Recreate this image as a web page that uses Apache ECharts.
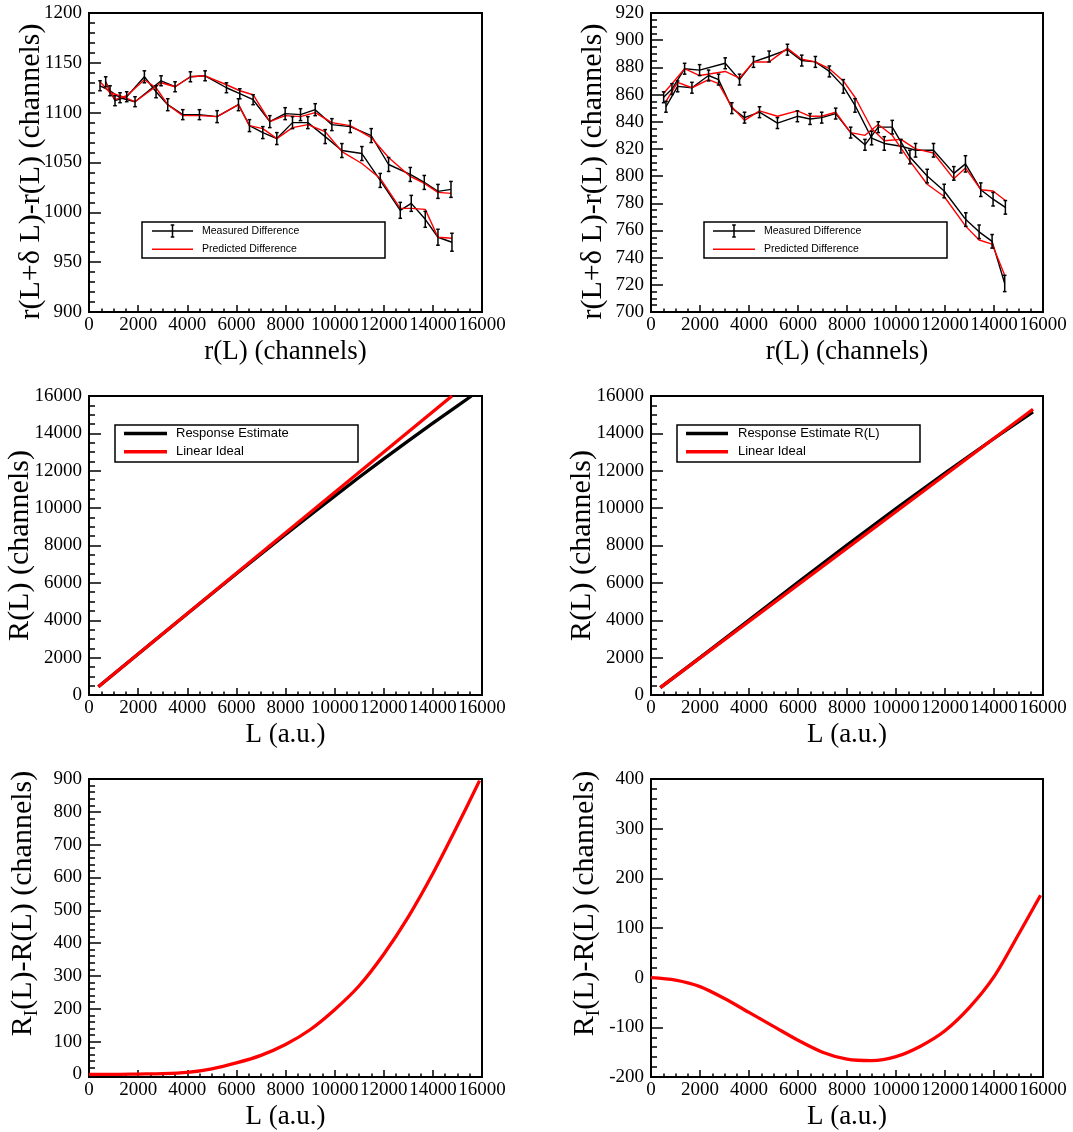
<!DOCTYPE html>
<html>
<head>
<meta charset="utf-8">
<script src="https://cdn.jsdelivr.net/npm/echarts@6/dist/echarts.min.js"></script>
<style>
  html, body { margin: 0; padding: 0; background: #fff; }
  #chart { width: 1073px; height: 1132px; }
</style>
</head>
<body>
<div id="chart"></div>
<script>
// ---- Top-left panel: difference measurements, two branches ----
const tlA_r    = [448, 856, 1263, 1874, 2934, 3504, 4129, 4727, 5596, 6139, 6682, 7361, 7986, 8611, 9209, 9888, 10635, 11490, 12197, 13080, 13650, 14207, 14737];
const tlA_meas = [1127, 1122, 1115, 1111, 1132, 1126, 1136, 1137, 1125, 1119, 1113, 1091, 1099, 1098, 1103, 1088, 1086, 1077, 1048, 1038, 1030, 1021, 1023];
const tlA_err  = [5, 5, 5, 5, 5, 5, 5, 5, 5, 5, 5, 6, 6, 6, 6, 6, 6, 7, 7, 7, 7, 7, 8];
const tlA_pred = [1131, 1120, 1117, 1111, 1130, 1126, 1136, 1137, 1128, 1122, 1118, 1091, 1097, 1096, 1100, 1090, 1087, 1075, 1055, 1036, 1029, 1020, 1019];

const tlB_r    = [679, 1059, 1535, 2255, 2730, 3205, 3817, 4496, 5215, 6085, 6533, 7076, 7647, 8285, 8910, 9616, 10295, 11110, 11857, 12672, 13120, 13690, 14207, 14777];
const tlB_meas = [1131, 1112, 1116, 1136, 1121, 1108, 1098, 1098, 1096, 1108, 1087, 1080, 1074, 1090, 1090, 1076, 1062, 1059, 1032, 1002, 1009, 993, 975, 970];
const tlB_err  = [5, 5, 5, 6, 6, 6, 5, 5, 6, 6, 6, 6, 6, 6, 6, 7, 7, 7, 7, 8, 8, 8, 8, 9];
const tlB_pred = [1130, 1113, 1117, 1133, 1125, 1108, 1097, 1097, 1096, 1108, 1087, 1084, 1074, 1085, 1088, 1081, 1061, 1049, 1034, 1004, 1004, 1003, 975, 974];

// ---- Top-right panel ----
const trA_r    = [516, 856, 1372, 1983, 3029, 3613, 4183, 4822, 5569, 6153, 6710, 7280, 7850, 8326, 9005, 9521, 10200, 10798, 11531, 12360, 12835, 13460, 13962, 14464];
const trA_meas = [858, 864, 879, 878, 883, 871, 884, 888, 893, 885, 884, 877, 866, 852, 828, 824, 822, 819, 819, 802, 809, 790, 783, 777];
const trA_err  = [4, 4, 4, 4, 4, 4, 4, 4, 4, 4, 4, 4, 5, 5, 5, 5, 5, 5, 5, 5, 6, 5, 5, 5];
const trA_pred = [861, 868, 879, 874, 877, 872, 884, 884, 894, 886, 884, 879, 870, 858, 835, 826, 827, 820, 817, 798, 806, 790, 789, 782];

const trB_r    = [611, 1087, 1671, 2350, 2757, 3300, 3817, 4428, 5161, 5976, 6492, 6968, 7538, 8149, 8733, 9276, 9847, 10567, 11273, 11966, 12849, 13392, 13922, 14437];
const trB_meas = [851, 866, 865, 874, 871, 850, 843, 847, 839, 844, 842, 843, 846, 832, 823, 836, 836, 814, 800, 789, 768, 759, 752, 721];
const trB_err  = [4, 4, 4, 4, 4, 4, 4, 4, 4, 4, 4, 4, 4, 4, 4, 4, 5, 5, 5, 5, 5, 5, 5, 6];
const trB_pred = [855, 869, 865, 871, 868, 851, 841, 848, 844, 848, 844, 844, 847, 832, 830, 838, 830, 811, 794, 785, 763, 753, 750, 727];

// ---- Middle panels: response estimate vs linear ideal ----
const mlResp_L = [380, 2000, 4000, 6000, 8000, 9000, 10000, 11000, 12000, 13000, 14000, 15000, 15570];
const mlResp_R = [446, 2195, 4351, 6484, 8587, 9623, 10641, 11650, 12632, 13601, 14548, 15471, 16000];
const mlLin_L  = [380, 14776];
const mlLin_R  = [446, 16000];

const mrResp_L = [380, 2000, 4000, 6000, 8000, 10000, 12000, 14000, 15592];
const mrResp_R = [392, 1998, 4007, 6030, 8019, 9971, 11879, 13725, 15149];
const mrLin_L  = [380, 15592];
const mrLin_R  = [392, 15289];

// ---- Bottom panels: R_I(L) - R(L) ----
const blL = [0, 1000, 2000, 3000, 4000, 5000, 6000, 7000, 8000, 9000, 10000, 11000, 12000, 13000, 14000, 15000, 15900];
const blD = [0, 0, 1, 2, 6, 17, 35, 58, 91, 136, 197, 270, 366, 480, 612, 758, 895];
const brL = [0, 1000, 2000, 3000, 4000, 5000, 6000, 7000, 8000, 9000, 10000, 11000, 12000, 13000, 14000, 15000, 15900];
const brD = [0, -5, -18, -42, -70, -98, -126, -150, -164, -167, -159, -138, -107, -60, 2, 87, 166];

// ---- Tick values for the lower-left residual axis ----
const blMajorTicks = [0, 100, 200, 300, 400, 500, 600, 700, 800, 900];
const blMinorTicks = [];
for (let v = 20; v < 900; v += 20) if (v % 100 !== 0) blMinorTicks.push(v);

// ---- Texts ----
const titleDiff = 'r(L+δ L)-r(L) (channels)';
const titleRL = 'R(L) (channels)';
const titleResid = '{a|R}{b|I}{a|(L)-R(L) (channels)}';
const xTitleTop = 'r(L) (channels)';
const xTitleL = 'L (a.u.)';

const SERIF = '"Liberation Serif", "Times New Roman", serif';
const SANS = '"Liberation Sans", Arial, sans-serif';
const RED = '#ff0000';
const Y_TITLE_SIZE = 30;

const pairs = (xs, ys) => xs.map((x, i) => [x, ys[i]]);

// Panel frames (pixel boxes of the plotting areas)
const grids = [
  { left: 89,  top: 13,  width: 393, height: 299 },
  { left: 651, top: 13,  width: 392, height: 299 },
  { left: 89,  top: 396, width: 393, height: 299 },
  { left: 651, top: 396, width: 392, height: 299 },
  { left: 89,  top: 779, width: 393, height: 298 },
  { left: 651, top: 779, width: 392, height: 298 }
].map(g => Object.assign({ show: true, borderColor: '#000', borderWidth: 2, backgroundColor: '#fff' }, g));

function xAxisFor(i, title) {
  return {
    type: 'value', gridIndex: i, min: 0, max: 16000, interval: 2000,
    axisLine: { show: true, onZero: false, lineStyle: { color: '#000', width: 2 } },
    axisTick: { show: true, inside: true, length: 7, lineStyle: { color: '#000', width: 1.5 } },
    minorTick: { show: true, splitNumber: 4, length: 3.5, lineStyle: { color: '#000', width: 1.5 } },
    splitLine: { show: false },
    axisLabel: { color: '#000', fontFamily: SERIF, fontSize: 19, margin: 4, showMinLabel: true, showMaxLabel: true,
                 formatter: v => String(v) },
    name: title, nameLocation: 'middle', nameGap: 26, nameMoveOverlap: false,
    nameTextStyle: { color: '#000', fontFamily: SERIF, fontSize: 27 }
  };
}

function yAxisFor(i, min, max, interval, minorSplit, title, extra) {
  const ax = {
    type: 'value', gridIndex: i, min, max, interval,
    axisLine: { show: true, onZero: false, lineStyle: { color: '#000', width: 2 } },
    axisTick: { show: true, inside: true, length: 12, lineStyle: { color: '#000', width: 1.5 } },
    minorTick: { show: true, splitNumber: minorSplit, length: 6, lineStyle: { color: '#000', width: 1.5 } },
    splitLine: { show: false },
    axisLabel: { color: '#000', fontFamily: SERIF, fontSize: 19, margin: 7, showMinLabel: true, showMaxLabel: true,
                 formatter: v => String(v) },
    name: title, nameLocation: 'middle', nameGap: 43, nameMoveOverlap: false,
    nameTextStyle: { color: '#000', fontFamily: SERIF, fontSize: Y_TITLE_SIZE }
  };
  return Object.assign(ax, extra || {});
}

const xAxes = [
  xAxisFor(0, xTitleTop), xAxisFor(1, xTitleTop),
  xAxisFor(2, xTitleL), xAxisFor(3, xTitleL),
  xAxisFor(4, xTitleL), xAxisFor(5, xTitleL)
];

const residRich = {
  a: { fontFamily: SERIF, fontSize: Y_TITLE_SIZE, color: '#000', lineHeight: 30 },
  b: { fontFamily: SERIF, fontSize: 19, color: '#000', verticalAlign: 'bottom', lineHeight: 38 }
};
// text padding slides the titles along the axis (rotated: left = upward)
const diffTitleStyle = { color: '#000', fontFamily: SERIF, fontSize: Y_TITLE_SIZE, padding: [0, 18, 0, 0] };
const residTitleStyle = { color: '#000', fontFamily: SERIF, fontSize: Y_TITLE_SIZE, rich: residRich, padding: [0, 0, 0, 49] };

const yAxes = [
  yAxisFor(0, 900, 1200, 50, 5, titleDiff, { nameTextStyle: diffTitleStyle }),
  yAxisFor(1, 700, 920, 20, 4, titleDiff, { nameTextStyle: diffTitleStyle }),
  yAxisFor(2, 0, 16000, 2000, 4, titleRL, { nameGap: 54 }),
  yAxisFor(3, 0, 16000, 2000, 4, titleRL, { nameGap: 54 }),
  // lower-left: the frame starts just below zero, ticks are listed explicitly
  yAxisFor(4, -8, 900, undefined, 5, titleResid, {
    axisTick: { show: true, inside: true, length: 12, customValues: blMajorTicks, lineStyle: { color: '#000', width: 1.5 } },
    minorTick: { show: false },
    axisLabel: { color: '#000', fontFamily: SERIF, fontSize: 19, margin: 7, customValues: blMajorTicks, formatter: v => String(v) },
    nameGap: 47,
    nameTextStyle: residTitleStyle
  }),
  yAxisFor(5, -200, 400, 100, 5, titleResid, {
    nameGap: 47,
    nameTextStyle: residTitleStyle
  }),
  // minor ticks for the lower-left residual axis
  {
    type: 'value', gridIndex: 4, min: -8, max: 900, position: 'left', offset: 0,
    axisLine: { show: false, onZero: false },
    axisTick: { show: true, inside: true, length: 6, customValues: blMinorTicks, lineStyle: { color: '#000', width: 1.5 } },
    axisLabel: { show: false }, splitLine: { show: false }
  }
];

function lineSeries(name, idx, data, color, width, extra) {
  return Object.assign({
    type: 'line', name, xAxisIndex: idx, yAxisIndex: idx, data,
    symbol: 'none', showSymbol: false, clip: true,
    lineStyle: { color, width, join: 'round' }, itemStyle: { color },
    z: 3, animation: false
  }, extra || {});
}

function errorBars(name, idx, xs, ys, es) {
  return {
    type: 'custom', name, xAxisIndex: idx, yAxisIndex: idx,
    data: xs.map((x, i) => [x, ys[i] - es[i], ys[i] + es[i]]),
    encode: { x: 0, y: [1, 2] },
    renderItem(params, api) {
      const lo = api.coord([api.value(0), api.value(1)]);
      const hi = api.coord([api.value(0), api.value(2)]);
      const c = 1.8;
      const style = { stroke: '#000', lineWidth: 1.5 };
      return {
        type: 'group',
        children: [
          { type: 'line', shape: { x1: lo[0], y1: lo[1], x2: hi[0], y2: hi[1] }, style },
          { type: 'line', shape: { x1: lo[0] - c, y1: lo[1], x2: lo[0] + c, y2: lo[1] }, style },
          { type: 'line', shape: { x1: hi[0] - c, y1: hi[1], x2: hi[0] + c, y2: hi[1] }, style }
        ]
      };
    },
    z: 4, animation: false
  };
}

const series = [
  // top-left
  lineSeries('Measured Difference', 0, pairs(tlA_r, tlA_meas), '#000', 1.4),
  lineSeries('Measured Difference', 0, pairs(tlB_r, tlB_meas), '#000', 1.4),
  errorBars('Measured Difference', 0, tlA_r, tlA_meas, tlA_err),
  errorBars('Measured Difference', 0, tlB_r, tlB_meas, tlB_err),
  lineSeries('Predicted Difference', 0, pairs(tlA_r, tlA_pred), RED, 1.4),
  lineSeries('Predicted Difference', 0, pairs(tlB_r, tlB_pred), RED, 1.4),
  // top-right
  lineSeries('Measured Difference', 1, pairs(trA_r, trA_meas), '#000', 1.4),
  lineSeries('Measured Difference', 1, pairs(trB_r, trB_meas), '#000', 1.4),
  errorBars('Measured Difference', 1, trA_r, trA_meas, trA_err),
  errorBars('Measured Difference', 1, trB_r, trB_meas, trB_err),
  lineSeries('Predicted Difference', 1, pairs(trA_r, trA_pred), RED, 1.4),
  lineSeries('Predicted Difference', 1, pairs(trB_r, trB_pred), RED, 1.4),
  // middle
  lineSeries('Response Estimate', 2, pairs(mlResp_L, mlResp_R), '#000', 3.3),
  lineSeries('Linear Ideal', 2, pairs(mlLin_L, mlLin_R), RED, 3.3),
  lineSeries('Response Estimate R(L)', 3, pairs(mrResp_L, mrResp_R), '#000', 3.3),
  lineSeries('Linear Ideal', 3, pairs(mrLin_L, mrLin_R), RED, 3.3),
  // bottom
  lineSeries('Residual', 4, pairs(blL, blD), RED, 3.3, { smooth: 0.3 }),
  lineSeries('Residual', 5, pairs(brL, brD), RED, 3.3, { smooth: 0.3 })
];

// Legend boxes
function legendBox(x, y, w, h, rows) {
  const children = [{
    type: 'rect', shape: { x, y, width: w, height: h },
    style: { fill: '#fff', stroke: '#000', lineWidth: 1.5 }, z: 10
  }];
  rows.forEach(r => {
    if (r.kind === 'err') {
      const mx = (r.x1 + r.x2) / 2;
      const st = { stroke: '#000', lineWidth: 1.5 };
      children.push({ type: 'line', shape: { x1: r.x1, y1: r.y, x2: r.x2, y2: r.y }, style: st, z: 11 });
      children.push({ type: 'line', shape: { x1: mx, y1: r.y - 6, x2: mx, y2: r.y + 6 }, style: st, z: 11 });
      children.push({ type: 'line', shape: { x1: mx - 1.8, y1: r.y - 6, x2: mx + 1.8, y2: r.y - 6 }, style: st, z: 11 });
      children.push({ type: 'line', shape: { x1: mx - 1.8, y1: r.y + 6, x2: mx + 1.8, y2: r.y + 6 }, style: st, z: 11 });
    } else {
      children.push({ type: 'line', shape: { x1: r.x1, y1: r.y, x2: r.x2, y2: r.y },
                      style: { stroke: r.color, lineWidth: r.width }, z: 11 });
    }
    children.push({
      type: 'text', x: r.tx, y: r.y, z: 11,
      style: { text: r.text, fill: '#000', font: r.font, textAlign: 'left', textVerticalAlign: 'middle' }
    });
  });
  return { type: 'group', children };
}

const smallFont = '10.5px ' + SANS;
const midFont = '13px ' + SANS;

const graphics = [
  legendBox(142, 222, 243, 36, [
    { kind: 'err', x1: 152, x2: 193, y: 231, tx: 202, text: 'Measured Difference', font: smallFont },
    { kind: 'line', x1: 152, x2: 193, y: 249.3, color: RED, width: 1.4, tx: 202, text: 'Predicted Difference', font: smallFont }
  ]),
  legendBox(704, 222, 243, 36, [
    { kind: 'err', x1: 713, x2: 755, y: 231, tx: 764, text: 'Measured Difference', font: smallFont },
    { kind: 'line', x1: 713, x2: 755, y: 249.3, color: RED, width: 1.4, tx: 764, text: 'Predicted Difference', font: smallFont }
  ]),
  legendBox(115, 425, 243, 37, [
    { kind: 'line', x1: 124, x2: 167, y: 433.5, color: '#000', width: 3.5, tx: 176, text: 'Response Estimate', font: midFont },
    { kind: 'line', x1: 124, x2: 167, y: 451.7, color: RED, width: 3.5, tx: 176, text: 'Linear Ideal', font: midFont }
  ]),
  legendBox(677, 425, 243, 37, [
    { kind: 'line', x1: 686, x2: 728, y: 433.5, color: '#000', width: 3.5, tx: 738, text: 'Response Estimate R(L)', font: midFont },
    { kind: 'line', x1: 686, x2: 728, y: 451.7, color: RED, width: 3.5, tx: 738, text: 'Linear Ideal', font: midFont }
  ])
];

const chart = echarts.init(document.getElementById('chart'), null, { renderer: 'canvas' });
chart.setOption({
  backgroundColor: '#fff',
  animation: false,
  grid: grids,
  xAxis: xAxes,
  yAxis: yAxes,
  series,
  graphic: graphics
});
</script>
</body>
</html>
